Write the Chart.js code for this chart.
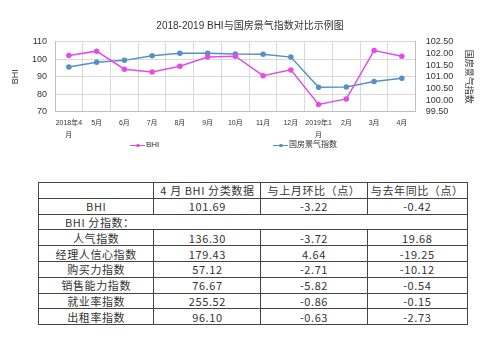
<!DOCTYPE html>
<html>
<head>
<meta charset="utf-8">
<script src="https://cdn.jsdelivr.net/npm/chart.js@4"></script>
<style>
  body { margin: 0; background: #fff; width: 500px; height: 341px; position: relative; overflow: hidden; font-family: Arial, "Liberation Sans", "Noto Sans CJK SC", sans-serif; }
  #chartBox { position: absolute; left: 0; top: 0; width: 500px; height: 140px; }
  .legend { position: absolute; top: 140px; font-size: 8px; color: #333; line-height: 10px; white-space: nowrap; }
  .legend .mk { display: inline-block; position: relative; width: 15px; height: 10px; vertical-align: top; margin-right: 1px; }
  .legend .mk:before { content: ""; position: absolute; left: 0; right: 0; top: 4.5px; height: 1.5px; }
  .legend .mk:after { content: ""; position: absolute; left: 6px; top: 3.5px; width: 3.5px; height: 3.5px; border-radius: 50%; }
  .lg1 .mk:before, .lg1 .mk:after { background: #e04ee6; }
  .lg2 .mk:before, .lg2 .mk:after { background: #5590c6; }
  table { position: absolute; left: 38px; top: 182px; border-collapse: collapse; width: 430px; border: 1px solid #444;
          font-family: "Noto Sans CJK SC", sans-serif; font-size: 11px; color: #333; letter-spacing: 0.6px; }
  td { border: 1px solid #444; height: 14.8px; padding: 0; line-height: 14px; text-align: center; white-space: nowrap; }
</style>
</head>
<body>
<div id="chartBox"><canvas id="c"></canvas></div>
<div class="legend lg1" style="left:130px"><span class="mk"></span>BHI</div>
<div class="legend lg2" style="left:273px"><span class="mk"></span>国房景气指数</div>

<table id="tbl"></table>

<script>
// chart data
const months = [['2018年4', '月'], '5月', '6月', '7月', '8月', '9月', '10月', '11月', '12月', ['2019年1', '月'], '2月', '3月', '4月'];
const bhi = [102.11, 104.6, 94.3, 92.7, 96.0, 101.3, 101.7, 90.6, 93.9, 74.1, 77.3, 104.91, 101.69];
const nationalIndex = [101.42, 101.62, 101.70, 101.90, 102.01, 102.01, 101.97, 101.96, 101.84, 100.55, 100.56, 100.79, 100.93];

// table data
const tableHeader = ['', '4 月 BHI 分类数据', '与上月环比（点）', '与去年同比（点）'];
const subIndexTitle = 'BHI 分指数：';
const rowNames = ['人气指数', '经理人信心指数', '购买力指数', '销售能力指数', '就业率指数', '出租率指数'];
const aprilValues = ['136.30', '179.43', '57.12', '76.67', '255.52', '96.10'];
const momChange = ['-3.72', '4.64', '-2.71', '-5.82', '-0.86', '-0.63'];
const yoyChange = ['19.68', '-19.25', '-10.12', '-0.54', '-0.15', '-2.73'];
const bhiRow = ['BHI', '101.69', '-3.22', '-0.42'];

// build table
const widths = [117, 107, 106, 100];
let html = '<tr>' + tableHeader.map((t, i) => '<td style="width:' + widths[i] + 'px">' + t + '</td>').join('') + '</tr>';
html += '<tr>' + bhiRow.map(t => '<td>' + t + '</td>').join('') + '</tr>';
html += '<tr><td colspan="4" style="text-align:left;padding-left:26px">' + subIndexTitle + '</td></tr>';
rowNames.forEach((n, i) => {
  html += '<tr><td>' + n + '</td><td>' + aprilValues[i] + '</td><td>' + momChange[i] + '</td><td>' + yoyChange[i] + '</td></tr>';
});
document.getElementById('tbl').innerHTML = html;

const tickColor = '#333';
const gridColor = '#d9d9d9';

new Chart(document.getElementById('c'), {
  type: 'line',
  data: {
    labels: months,
    datasets: [{
      label: 'BHI',
      data: bhi,
      yAxisID: 'y',
      borderColor: '#e04ee6',
      backgroundColor: '#e04ee6',
      borderWidth: 1.5,
      pointRadius: 2,
      pointHoverRadius: 2,
      tension: 0
    }, {
      label: '国房景气指数',
      data: nationalIndex,
      yAxisID: 'y1',
      borderColor: '#5590c6',
      backgroundColor: '#5590c6',
      borderWidth: 1.5,
      pointRadius: 2,
      pointHoverRadius: 2,
      tension: 0
    }]
  },
  options: {
    responsive: true,
    maintainAspectRatio: false,
    animation: false,
    layout: { padding: 0 },
    plugins: {
      legend: { display: false },
      tooltip: { enabled: false },
      title: {
        display: true,
        text: '2018-2019 BHI与国房景气指数对比示例图',
        color: '#333',
        font: { size: 10, family: 'Arial, "Liberation Sans", "Noto Sans CJK SC"', weight: 'normal' },
        padding: { top: 20.7, bottom: 9 }
      }
    },
    scales: {
      x: {
        offset: true,
        grid: { color: gridColor, offset: true, drawTicks: false },
        border: { color: '#bfbfbf' },
        ticks: {
          color: tickColor,
          padding: 5,
          maxRotation: 0,
          autoSkip: false,
          font: { size: 7, lineHeight: 1.75, family: 'Arial, "Liberation Sans", "Noto Sans CJK SC"' }
        },
        afterFit: function(scale) { scale.height = 28.3; }
      },
      y: {
        position: 'left',
        min: 70,
        max: 110,
        grid: { color: gridColor, drawTicks: false },
        border: { color: '#bfbfbf' },
        ticks: { stepSize: 10, autoSkip: false, padding: 8, color: tickColor, font: { size: 9, family: 'Arial, "Liberation Sans"' } },
        title: {
          display: true, text: 'BHI', color: '#333',
          font: { size: 9, family: 'Arial, "Liberation Sans"' },
          padding: { top: 10 }
        },
        afterFit: function(scale) { scale.width = 55; }
      },
      y1: {
        position: 'right',
        min: 99.5,
        max: 102.5,
        grid: { display: false, drawTicks: false },
        border: { color: '#bfbfbf' },
        ticks: {
          stepSize: 0.5, autoSkip: false, padding: 10, color: tickColor,
          font: { size: 9, family: 'Arial, "Liberation Sans"' },
          callback: function(v) { return v.toFixed(2); }
        },
        title: {
          display: true, text: '国房景气指数', color: '#333',
          font: { size: 9, family: '"Noto Sans CJK SC"' },
          padding: { top: 25 }
        },
        afterFit: function(scale) { scale.width = 84.3; }
      }
    }
  }
});
</script>
</body>
</html>
